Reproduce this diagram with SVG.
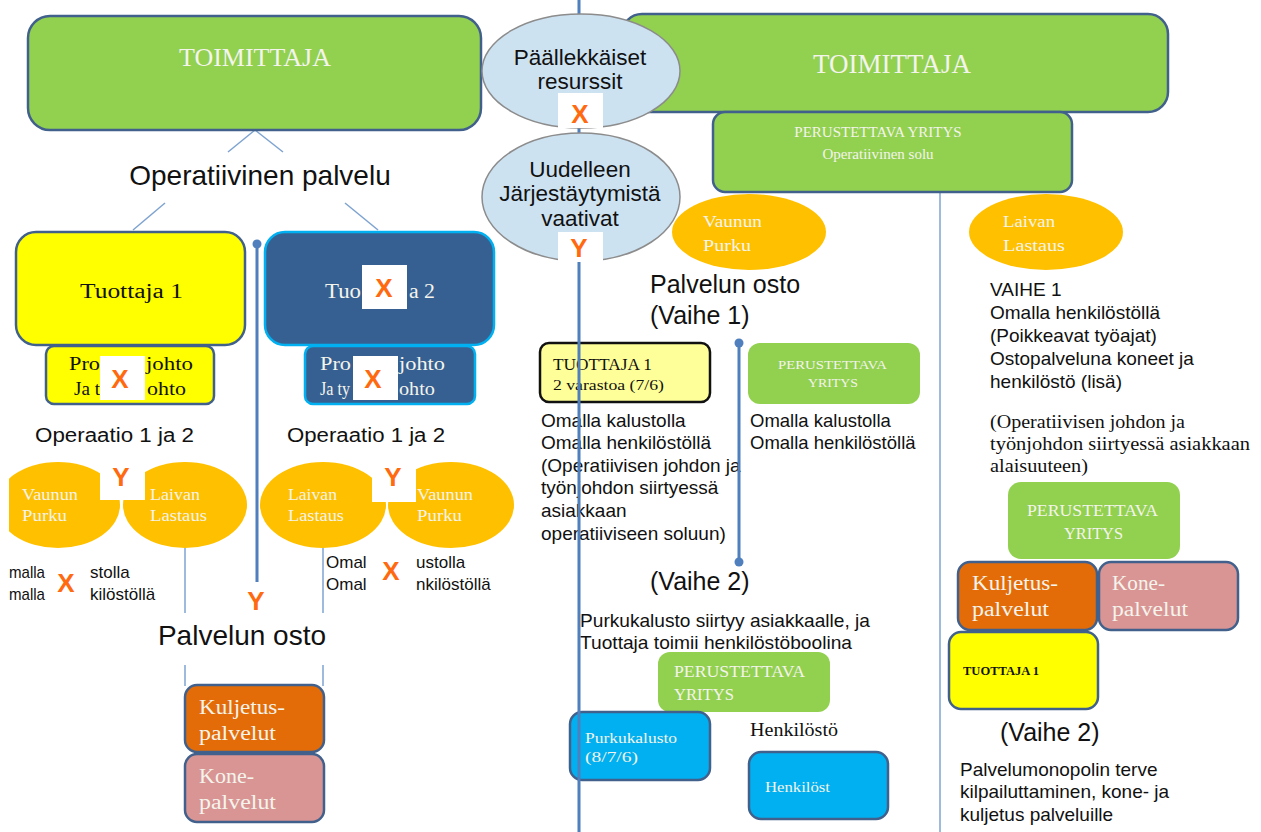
<svg xmlns="http://www.w3.org/2000/svg" width="1261" height="832" viewBox="0 0 1261 832">
<defs>
<style>
.sans{font-family:"Liberation Sans",Arial,sans-serif;fill:#111}
.ser{font-family:"Liberation Serif","DejaVu Serif",serif}
.dk{fill:#111}
.wt{fill:#f4f4ec}
.box{stroke:#41618c;stroke-width:2.5}
.green{fill:#92d050}
.org{fill:#ffc000}
.mark{font-family:"Liberation Sans",Arial,sans-serif;fill:#ff6a10;font-size:26px;font-weight:bold;text-anchor:middle}
.thin{stroke:#7ea3d0;stroke-width:1.5;fill:none}
.thick{stroke:#4f7fbd;stroke-width:3;fill:none}
.s19{font-size:19px}
</style>
<clipPath id="clipL"><rect x="9" y="0" width="600" height="832"/></clipPath>
</defs>
<rect width="1261" height="832" fill="#fff"/>

<g id="connectors">
<line class="thin" x1="255" y1="130" x2="228" y2="152"/>
<line class="thin" x1="255" y1="130" x2="283" y2="152"/>
<line class="thin" x1="165" y1="203" x2="133" y2="230"/>
<line class="thin" x1="345" y1="203" x2="378" y2="230"/>
<line class="thin" x1="185" y1="548" x2="185" y2="613"/>
<line class="thin" x1="185" y1="665" x2="185" y2="686"/>
<line class="thin" x1="323" y1="548" x2="323" y2="613"/>
<line class="thin" x1="323" y1="665" x2="323" y2="686"/>
<line class="thin" x1="940" y1="192" x2="940" y2="832"/>
<line class="thick" x1="257" y1="244" x2="257" y2="582"/>
<circle cx="257" cy="244" r="4.5" fill="#4f7fbd"/>
</g>

<g id="toimittaja-left">
<rect class="box green" x="28" y="16" width="453" height="114" rx="22"/>
<text class="ser wt" x="255" y="66" font-size="26" text-anchor="middle">TOIMITTAJA</text>
</g>
<g id="operatiivinen">
<text class="sans" x="260" y="185" font-size="28" text-anchor="middle">Operatiivinen palvelu</text>
</g>

<g id="tuottaja1">
<rect class="box" fill="#ffff00" x="16" y="232" width="229" height="113" rx="20"/>
<text class="ser dk" x="80" y="298" font-size="20" textLength="103" lengthAdjust="spacingAndGlyphs">Tuottaja 1</text>
</g>
<g id="tuottaja2">
<rect x="265" y="232" width="229" height="113" rx="20" fill="#376092" stroke="#00b0f0" stroke-width="2.5"/>
<text class="ser wt" x="325" y="298" font-size="20" textLength="36" lengthAdjust="spacingAndGlyphs">Tuo</text>
<text class="ser wt" x="409" y="298" font-size="20" textLength="26" lengthAdjust="spacingAndGlyphs">a 2</text>
<rect x="362" y="265" width="45" height="44" fill="#fff"/>
<text class="mark" x="384" y="297">X</text>
</g>

<g id="projektijohto1">
<rect class="box" fill="#ffff00" x="46" y="346" width="168" height="58" rx="8"/>
<text class="ser dk" x="69" y="370" font-size="19" textLength="31" lengthAdjust="spacingAndGlyphs">Pro</text>
<text class="ser dk" x="146" y="370" font-size="19" textLength="47" lengthAdjust="spacingAndGlyphs">johto</text>
<text class="ser dk" x="74" y="395" font-size="19" textLength="26" lengthAdjust="spacingAndGlyphs">Ja t</text>
<text class="ser dk" x="147" y="395" font-size="19" textLength="39" lengthAdjust="spacingAndGlyphs">ohto</text>
<rect x="100" y="356" width="45" height="44" fill="#fff"/>
<text class="mark" x="120" y="388">X</text>
</g>
<g id="projektijohto2">
<rect x="305" y="346" width="170" height="58" rx="8" fill="#376092" stroke="#00b0f0" stroke-width="2.5"/>
<text class="ser wt" x="320" y="370" font-size="19" textLength="31" lengthAdjust="spacingAndGlyphs">Pro</text>
<text class="ser wt" x="399" y="370" font-size="19" textLength="46" lengthAdjust="spacingAndGlyphs">johto</text>
<text class="ser wt" x="320" y="395" font-size="19" textLength="30" lengthAdjust="spacingAndGlyphs">Ja ty</text>
<text class="ser wt" x="399" y="395" font-size="19" textLength="36" lengthAdjust="spacingAndGlyphs">ohto</text>
<rect x="353" y="356" width="45" height="44" fill="#fff"/>
<text class="mark" x="373" y="388">X</text>
</g>

<g id="operaatio-left">
<text class="sans" x="35" y="442" font-size="20" textLength="159" lengthAdjust="spacingAndGlyphs">Operaatio 1 ja 2</text>
</g>
<g id="operaatio-right">
<text class="sans" x="287" y="442" font-size="20" textLength="158" lengthAdjust="spacingAndGlyphs">Operaatio 1 ja 2</text>
</g>

<g id="ellipses-left">
<ellipse class="org" cx="58" cy="505" rx="62" ry="43" clip-path="url(#clipL)"/>
<ellipse class="org" cx="185" cy="505" rx="62" ry="43"/>
<text class="ser wt" x="22" y="500" font-size="17" textLength="56" lengthAdjust="spacingAndGlyphs">Vaunun</text>
<text class="ser wt" x="22" y="521" font-size="17" textLength="45" lengthAdjust="spacingAndGlyphs">Purku</text>
<text class="ser wt" x="150" y="500" font-size="17" textLength="50" lengthAdjust="spacingAndGlyphs">Laivan</text>
<text class="ser wt" x="150" y="521" font-size="17" textLength="57" lengthAdjust="spacingAndGlyphs">Lastaus</text>
<rect x="100" y="461" width="45" height="39" fill="#fff"/>
<text class="mark" x="121" y="486">Y</text>
</g>
<g id="ellipses-right">
<ellipse class="org" cx="323" cy="505" rx="63" ry="43"/>
<ellipse class="org" cx="451" cy="505" rx="63" ry="43"/>
<text class="ser wt" x="288" y="500" font-size="17" textLength="49" lengthAdjust="spacingAndGlyphs">Laivan</text>
<text class="ser wt" x="288" y="521" font-size="17" textLength="56" lengthAdjust="spacingAndGlyphs">Lastaus</text>
<text class="ser wt" x="417" y="500" font-size="17" textLength="56" lengthAdjust="spacingAndGlyphs">Vaunun</text>
<text class="ser wt" x="417" y="521" font-size="17" textLength="45" lengthAdjust="spacingAndGlyphs">Purku</text>
<rect x="372" y="461" width="44" height="41" fill="#fff"/>
<text class="mark" x="393" y="486">Y</text>
</g>

<g id="oma-left">
<text class="sans" x="9" y="578" font-size="17" textLength="36" lengthAdjust="spacingAndGlyphs">malla</text>
<text class="sans" x="9" y="600" font-size="17" textLength="36" lengthAdjust="spacingAndGlyphs">malla</text>
<text class="sans" x="90" y="578" font-size="17">stolla</text>
<text class="sans" x="90" y="600" font-size="17">kilöstöllä</text>
<text class="mark" x="66" y="592">X</text>
</g>
<g id="oma-right">
<text class="sans" x="326" y="568" font-size="17">Omal</text>
<text class="sans" x="326" y="590" font-size="17">Omal</text>
<text class="sans" x="416" y="568" font-size="17">ustolla</text>
<text class="sans" x="416" y="590" font-size="17">nkilöstöllä</text>
<text class="mark" x="391" y="580">X</text>
</g>

<g id="y-mid">
<text class="mark" x="256" y="610">Y</text>
</g>
<g id="palvelun-osto-left">
<text class="sans" x="242" y="645" font-size="28" text-anchor="middle">Palvelun osto</text>
</g>

<g id="kuljetus-left">
<rect class="box" fill="#e36c09" x="185" y="685" width="139" height="67" rx="12"/>
<text class="ser wt" x="199" y="714" font-size="20" textLength="86" lengthAdjust="spacingAndGlyphs">Kuljetus-</text>
<text class="ser wt" x="199" y="740" font-size="20" textLength="77" lengthAdjust="spacingAndGlyphs">palvelut</text>
</g>
<g id="kone-left">
<rect class="box" fill="#d99594" x="185" y="754" width="139" height="68" rx="12"/>
<text class="ser wt" x="199" y="783" font-size="20" textLength="55" lengthAdjust="spacingAndGlyphs">Kone-</text>
<text class="ser wt" x="199" y="809" font-size="20" textLength="77" lengthAdjust="spacingAndGlyphs">palvelut</text>
</g>

<g id="toimittaja-right">
<rect class="box green" x="622" y="14" width="546" height="98" rx="20"/>
<text class="ser wt" x="892" y="73" font-size="27" text-anchor="middle">TOIMITTAJA</text>
</g>
<g id="perustettava-top">
<rect class="box green" x="713" y="112" width="359" height="80" rx="12"/>
<text class="ser wt" x="878" y="137" font-size="15" text-anchor="middle">PERUSTETTAVA YRITYS</text>
<text class="ser wt" x="878" y="159" font-size="15" text-anchor="middle">Operatiivinen solu</text>
</g>

<g id="vaunun-right">
<ellipse class="org" cx="749" cy="232" rx="77" ry="38"/>
<text class="ser wt" x="703" y="227" font-size="17" textLength="59" lengthAdjust="spacingAndGlyphs">Vaunun</text>
<text class="ser wt" x="703" y="251" font-size="17" textLength="48" lengthAdjust="spacingAndGlyphs">Purku</text>
</g>
<g id="laivan-right">
<ellipse class="org" cx="1046" cy="232" rx="77" ry="38"/>
<text class="ser wt" x="1003" y="227" font-size="17" textLength="52" lengthAdjust="spacingAndGlyphs">Laivan</text>
<text class="ser wt" x="1003" y="251" font-size="17" textLength="62" lengthAdjust="spacingAndGlyphs">Lastaus</text>
</g>

<g id="palvelun-osto-vaihe1">
<text class="sans" x="650" y="293" font-size="25">Palvelun osto</text>
<text class="sans" x="650" y="324" font-size="25">(Vaihe 1)</text>
</g>

<g id="tuottaja1-mid">
<rect x="540" y="343" width="170" height="59" rx="9" fill="#ffff99" stroke="#111" stroke-width="2.5"/>
<text class="ser dk" x="553" y="370" font-size="17" textLength="99" lengthAdjust="spacingAndGlyphs">TUOTTAJA 1</text>
<text class="ser dk" x="553" y="390" font-size="14" textLength="111" lengthAdjust="spacingAndGlyphs">2 varastoa (7/6)</text>
</g>
<g id="text-tuottaja1-mid">
<text class="sans s19" x="541" y="427">Omalla kalustolla</text>
<text class="sans s19" x="541" y="449">Omalla henkilöstöllä</text>
<text class="sans s19" x="541" y="472">(Operatiivisen johdon ja</text>
<text class="sans s19" x="541" y="494">työnjohdon siirtyessä</text>
<text class="sans s19" x="541" y="517">asiakkaan</text>
<text class="sans s19" x="541" y="540">operatiiviseen soluun)</text>
</g>

<g id="perustettava-mid">
<rect class="green" x="748" y="343" width="172" height="61" rx="12"/>
<text class="ser wt" x="778" y="369" font-size="13" textLength="109" lengthAdjust="spacingAndGlyphs">PERUSTETTAVA</text>
<text class="ser wt" x="808" y="387" font-size="13" textLength="50" lengthAdjust="spacingAndGlyphs">YRITYS</text>
</g>
<g id="text-perustettava-mid">
<text class="sans" x="750" y="427" font-size="18.5">Omalla kalustolla</text>
<text class="sans" x="750" y="449" font-size="18.5">Omalla henkilöstöllä</text>
</g>

<g id="vaihe-line">
<line class="thick" x1="739" y1="343" x2="739" y2="562"/>
<circle cx="739" cy="343" r="4.5" fill="#4f7fbd"/>
<circle cx="739" cy="562" r="4.5" fill="#4f7fbd"/>
</g>

<g id="vaihe2-mid">
<text class="sans" x="650" y="590" font-size="25">(Vaihe 2)</text>
<text class="sans s19" x="580" y="627" textLength="290" lengthAdjust="spacingAndGlyphs">Purkukalusto siirtyy asiakkaalle, ja</text>
<text class="sans s19" x="580" y="649" textLength="272" lengthAdjust="spacingAndGlyphs">Tuottaja toimii henkilöstöboolina</text>
</g>

<g id="perustettava-v2">
<rect class="green" x="658" y="652" width="172" height="60" rx="12"/>
<text class="ser wt" x="674" y="677" font-size="17" textLength="131" lengthAdjust="spacingAndGlyphs">PERUSTETTAVA</text>
<text class="ser wt" x="674" y="700" font-size="17" textLength="60" lengthAdjust="spacingAndGlyphs">YRITYS</text>
</g>
<g id="purkukalusto">
<rect class="box" fill="#00b0f0" x="570" y="712" width="140" height="68" rx="12"/>
<text class="ser wt" x="585" y="743" font-size="15" textLength="92" lengthAdjust="spacingAndGlyphs">Purkukalusto</text>
<text class="ser wt" x="585" y="762" font-size="15" textLength="53" lengthAdjust="spacingAndGlyphs">(8/7/6)</text>
</g>
<g id="henkilosto-label">
<text class="ser dk" x="750" y="736" font-size="18" textLength="88" lengthAdjust="spacingAndGlyphs">Henkilöstö</text>
</g>
<g id="henkilost">
<rect class="box" fill="#00b0f0" x="749" y="752" width="139" height="67" rx="12"/>
<text class="ser wt" x="765" y="792" font-size="15" textLength="65" lengthAdjust="spacingAndGlyphs">Henkilöst</text>
</g>

<g id="center-line">
<line class="thick" x1="579" y1="0" x2="579" y2="832" stroke-width="2.5"/>
</g>

<g id="paallekkaiset">
<ellipse cx="581" cy="71" rx="99" ry="57" fill="#cde2f1" stroke="#8c8c8c" stroke-width="1.5"/>
<text class="sans" x="580" y="65" font-size="22.5" text-anchor="middle">Päällekkäiset</text>
<text class="sans" x="580" y="89" font-size="22.5" text-anchor="middle">resurssit</text>
<rect x="558" y="93" width="45" height="35" fill="#fff"/>
<text class="mark" x="580" y="123">X</text>
</g>
<g id="uudelleen">
<ellipse cx="581" cy="197" rx="99" ry="64" fill="#cde2f1" stroke="#8c8c8c" stroke-width="1.5"/>
<text class="sans" x="580" y="177" font-size="22.5" text-anchor="middle">Uudelleen</text>
<text class="sans" x="580" y="201" font-size="22.5" text-anchor="middle">Järjestäytymistä</text>
<text class="sans" x="580" y="226" font-size="22.5" text-anchor="middle">vaativat</text>
<rect x="558" y="232" width="45" height="30" fill="#fff"/>
<text class="mark" x="579" y="257">Y</text>
</g>

<g id="vaihe1-right">
<text class="sans s19" x="990" y="296">VAIHE 1</text>
<text class="sans s19" x="990" y="319">Omalla henkilöstöllä</text>
<text class="sans s19" x="990" y="342">(Poikkeavat työajat)</text>
<text class="sans s19" x="990" y="365">Ostopalveluna koneet ja</text>
<text class="sans s19" x="990" y="388">henkilöstö (lisä)</text>
<text class="ser dk" x="990" y="428" font-size="18" textLength="195" lengthAdjust="spacingAndGlyphs">(Operatiivisen johdon ja</text>
<text class="ser dk" x="990" y="450" font-size="18" textLength="260" lengthAdjust="spacingAndGlyphs">työnjohdon siirtyessä asiakkaan</text>
<text class="ser dk" x="990" y="472" font-size="18" textLength="98" lengthAdjust="spacingAndGlyphs">alaisuuteen)</text>
</g>

<g id="perustettava-right">
<rect class="green" x="1008" y="482" width="172" height="77" rx="13"/>
<text class="ser wt" x="1027" y="516" font-size="17" textLength="131" lengthAdjust="spacingAndGlyphs">PERUSTETTAVA</text>
<text class="ser wt" x="1064" y="539" font-size="17" textLength="59" lengthAdjust="spacingAndGlyphs">YRITYS</text>
</g>
<g id="kuljetus-right">
<rect class="box" fill="#e36c09" x="958" y="562" width="139" height="68" rx="12"/>
<text class="ser wt" x="972" y="590" font-size="20" textLength="86" lengthAdjust="spacingAndGlyphs">Kuljetus-</text>
<text class="ser wt" x="972" y="616" font-size="20" textLength="77" lengthAdjust="spacingAndGlyphs">palvelut</text>
</g>
<g id="kone-right">
<rect class="box" fill="#d99594" x="1099" y="562" width="139" height="68" rx="12"/>
<text class="ser wt" x="1112" y="590" font-size="20" textLength="53" lengthAdjust="spacingAndGlyphs">Kone-</text>
<text class="ser wt" x="1112" y="616" font-size="20" textLength="76" lengthAdjust="spacingAndGlyphs">palvelut</text>
</g>
<g id="tuottaja1-right">
<rect class="box" fill="#ffff00" x="949" y="632" width="149" height="77" rx="12"/>
<text class="ser dk" x="963" y="675" font-size="12" font-weight="bold" textLength="76" lengthAdjust="spacingAndGlyphs">TUOTTAJA 1</text>
</g>
<g id="vaihe2-right">
<text class="sans" x="1000" y="741" font-size="25">(Vaihe 2)</text>
<text class="sans s19" x="960" y="776">Palvelumonopolin terve</text>
<text class="sans s19" x="960" y="798">kilpailuttaminen, kone- ja</text>
<text class="sans s19" x="960" y="821">kuljetus palveluille</text>
</g>
</svg>
